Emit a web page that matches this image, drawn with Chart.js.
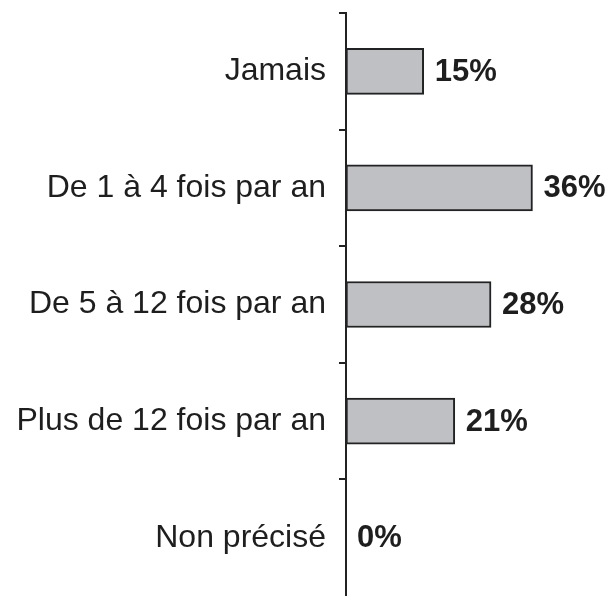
<!DOCTYPE html>
<html>
<head>
<meta charset="utf-8">
<script src="https://cdn.jsdelivr.net/npm/chart.js@4"></script>
<style>
  body { margin: 0; background: #fff; }
  #wrap { width: 609px; height: 596px; position: relative; }
</style>
</head>
<body>
<div id="wrap"><canvas id="freqChart"></canvas></div>
<script>
const categories = ["Jamais", "De 1 à 4 fois par an", "De 5 à 12 fois par an", "Plus de 12 fois par an", "Non précisé"]
const percents = [15, 36, 28, 21, 0]

// Étiquettes de valeur à droite des barres
const valueLabels = {
  id: 'valueLabels',
  afterDatasetsDraw(chart) {
    const ctx = chart.ctx
    const meta = chart.getDatasetMeta(0)
    ctx.save()
    ctx.font = 'bold 31px "Liberation Sans", Arial, sans-serif'
    ctx.fillStyle = '#1e1e1e'
    ctx.textAlign = 'left'
    ctx.textBaseline = 'middle'
    meta.data.forEach((bar, i) => {
      ctx.fillText(percents[i] + '%', bar.x + 11, bar.y + 1)
    })
    ctx.restore()
  }
}

new Chart(document.getElementById('freqChart'), {
  type: 'bar',
  data: {
    labels: categories,
    datasets: [{
      data: percents,
      backgroundColor: '#bfc0c4',
      borderColor: '#222222',
      borderWidth: 2,
      borderSkipped: false,
      barThickness: 46
    }]
  },
  options: {
    indexAxis: 'y',
    responsive: true,
    maintainAspectRatio: false,
    animation: false,
    layout: { autoPadding: false, padding: { top: 13, right: 4, bottom: 0, left: 0 } },
    plugins: {
      legend: { display: false },
      tooltip: { enabled: false }
    },
    scales: {
      x: { display: false, min: 0, max: 50 },
      y: {
        afterFit(scale) {
          scale.width = 346
          scale.paddingTop = 0
          scale.paddingBottom = 0
        },
        grid: {
          offset: true,
          drawOnChartArea: false,
          drawTicks: true,
          tickLength: 7,
          // pas de tiret au bas de l'axe
          color: c => c.type === 'tick' ? '#222222' : 'rgba(0,0,0,0)',
          lineWidth: 2
        },
        border: { display: true, color: '#222222', width: 2 },
        ticks: {
          color: '#1e1e1e',
          padding: 13,
          font: { family: '"Liberation Sans", Arial, sans-serif', size: 32 }
        }
      }
    }
  },
  plugins: [valueLabels]
})
</script>
</body>
</html>
